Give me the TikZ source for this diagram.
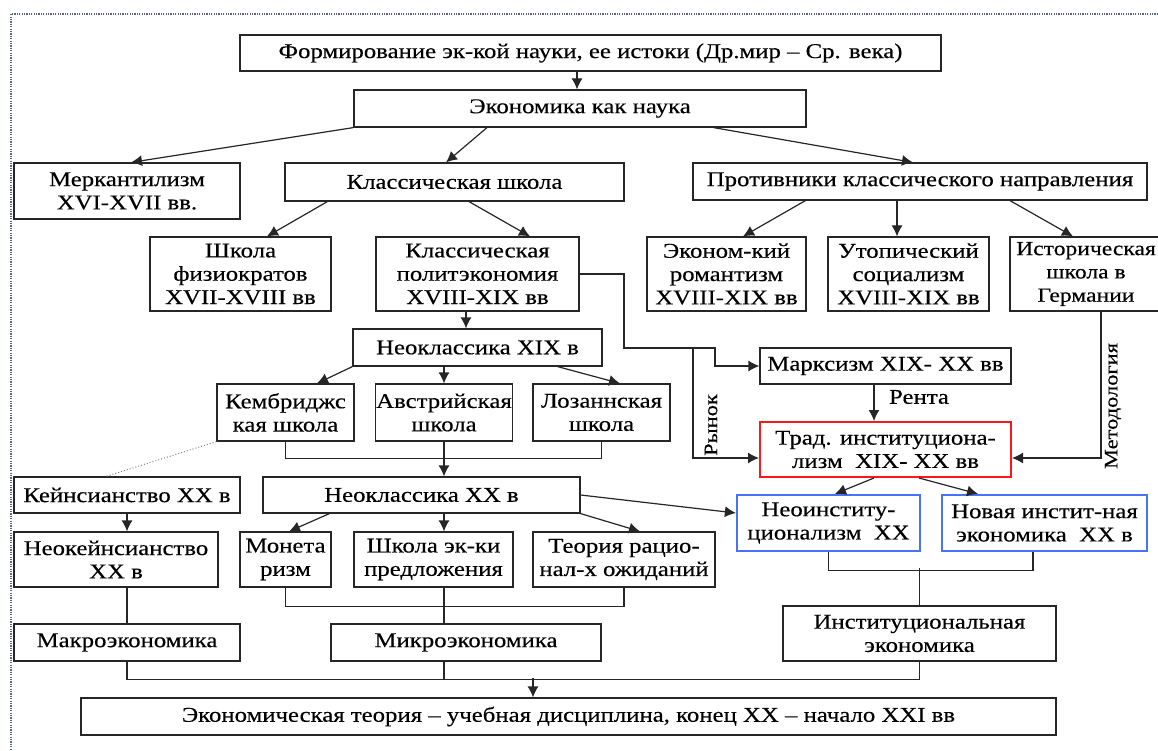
\documentclass[tikz,border=0pt]{standalone}
\usepackage{fontspec}
\setmainfont[FakeStretch=1.18, FakeBold=0.3]{Liberation Serif}
\usetikzlibrary{arrows.meta}
\definecolor{instred}{RGB}{250,25,25}
\definecolor{instblue}{RGB}{70,115,250}
\definecolor{framegray}{RGB}{90,100,125}
\begin{document}
\begin{tikzpicture}[x=1pt, y=-1pt, >={Latex[length=11pt,width=11pt]},
  box/.style={draw=black!85, line width=1.2pt, align=center, inner sep=0.5pt,
    font=\fontsize{21}{23.3}\selectfont},
  redbox/.style={box, draw=instred, line width=2pt},
  bluebox/.style={box, draw=instblue, line width=2.2pt},
  link/.style={draw=black!85, line width=1.2pt},
  lbl/.style={font=\fontsize{21}{23.3}\selectfont},
  sidelbl/.style={font=\fontsize{19}{20}\selectfont, rotate=90}]
\useasboundingbox (0,0) rectangle (1158,751);
\draw[framegray, line width=1.6pt, dash pattern=on 1.2pt off 1.2pt] (1158,14) -- (11,14) -- (11,751);
% boxes, top part
\node[box, minimum width=701, minimum height=36] (form) at (590.5,53) {Формирование эк-кой науки, ее истоки (Др.мир – Ср. века)};
\node[box, minimum width=452, minimum height=37] (econ) at (580,108.5) {Экономика как наука};
\node[box, minimum width=226, minimum height=56] (merk) at (127,191) {Меркантилизм\\XVI-XVII вв.};
\node[box, minimum width=339, minimum height=38] (klass) at (454.5,182) {Классическая школа};
\node[box, minimum width=454, minimum height=37] (protiv) at (920,181.5) {Противники классического направления};
\node[box, minimum width=181, minimum height=74] (fiz) at (240.5,274) {Школа\\физиократов\\XVII-XVIII вв};
\node[box, minimum width=203, minimum height=74] (polit) at (477.5,274) {Классическая\\политэкономия\\XVIII-XIX вв};
\node[box, minimum width=159, minimum height=74] (roman) at (726.5,274) {Эконом-кий\\романтизм\\XVIII-XIX вв};
\node[box, minimum width=161, minimum height=74] (utop) at (908.5,274) {Утопический\\социализм\\XVIII-XIX вв};
\node[box, minimum width=152, minimum height=74, font=\fontsize{20}{23.3}\selectfont] (hist) at (1086,274) {Историческая\\школа в\\Германии};
% middle part
\node[box, minimum width=249, minimum height=37] (neo19) at (477.5,347.5) {Неоклассика XIX в};
\node[box, minimum width=251, minimum height=36] (marx) at (885.5,366) {Марксизм XIX- XX вв};
\node[box, minimum width=137, minimum height=57] (camb) at (285.5,412.5) {Кембриджс\\кая школа};
\node[box, minimum width=136, minimum height=57] (austr) at (444,412.5) {Австрийская\\школа};
\node[box, minimum width=137, minimum height=57] (laus) at (601.5,412.5) {Лозаннская\\школа};
\node[redbox, minimum width=251, minimum height=55] (trad) at (885.5,449.5) {Трад. институциона-\\лизм~~XIX- XX вв};
\node[box, minimum width=226, minimum height=36] (keyn) at (127,495) {Кейнсианство XX в};
\node[box, minimum width=317, minimum height=36] (neo20) at (421.5,495) {Неоклассика XX в};
\node[bluebox, minimum width=183, minimum height=56] (neoinst) at (828.5,523) {Неоинститу-\\ционализм~~XX};
\node[bluebox, minimum width=205, minimum height=56] (newinst) at (1044.5,523) {Новая инстит-ная\\экономика~~XX в};
% bottom part
\node[box, minimum width=204, minimum height=55] (neokeyn) at (116,559.5) {Неокейнсианство\\XX в};
\node[box, minimum width=91, minimum height=55] (monet) at (285.5,559.5) {Монета\\ризм};
\node[box, minimum width=159, minimum height=55] (supply) at (433.5,559.5) {Школа эк-ки\\предложения};
\node[box, minimum width=182, minimum height=55] (ratexp) at (624,559.5) {Теория рацио-\\нал-х ожиданий};
\node[box, minimum width=226, minimum height=37] (makro) at (127,642.5) {Макроэкономика};
\node[box, minimum width=270, minimum height=37] (mikro) at (466,642.5) {Микроэкономика};
\node[box, minimum width=273, minimum height=55] (inst) at (919.5,633.5) {Институциональная\\экономика};
\node[box, minimum width=975, minimum height=37] (theory) at (568.5,716.5) {Экономическая теория – учебная дисциплина, конец XX – начало XXI вв};
% labels on the links
\node[lbl] (rent) at (919,397) {Рента};
\node[sidelbl] (market) at (711,425) {Рынок};
\node[sidelbl] (method) at (1113,406) {Методология};
\coordinate (fork) at (693,348);
% links
\draw[link,->] ([xshift=-3]econ.north |- form.south) -- ([xshift=-3]econ.north);
\draw[link,->] (econ.south west) -- ([xshift=4]merk.north);
\draw[link,->] ([xshift=-93]econ.south) -- ([xshift=-8.5]klass.north);
\draw[link,->] ([xshift=-93]econ.south east) -- ([xshift=-7]protiv.north);
\draw[link,->] ([xshift=43]klass.south west) -- ([xshift=26.5]fiz.north);
\draw[link,->] ([xshift=14.5]klass.south) -- ([xshift=52.5]polit.north);
\draw[link,->] ([xshift=113]protiv.south west) -- ([xshift=16.5]roman.north);
\draw[link,->] ([xshift=-11.5]utop.north |- protiv.south) -- ([xshift=-11.5]utop.north);
\draw[link,->] ([xshift=90]protiv.south) -- ([xshift=-13]hist.north);
\draw[link,->] ([xshift=-11.5]polit.south) -- ([xshift=-11.5]polit.south |- neo19.north);
\draw[link,->] (polit.east) -| (624,348) -- (715,348) |- (marx.west);
\draw[link,->] (fork) |- ([yshift=-8.5]trad.west);
\draw[link,->] ([xshift=-11.5]marx.south) -- ([xshift=-11.5]trad.north);
\draw[link,->] ([xshift=15]hist.south) |- ([yshift=-8.5]trad.east);
\draw[link,->] (neo19.south west) -- ([xshift=31.5]camb.north);
\draw[link,->] (austr.north |- neo19.south) -- (austr.north);
\draw[link,->] ([xshift=-45]neo19.south east) -- ([xshift=18.5]laus.north);
\draw[link] (camb.south) -- ++(0,17) -| (laus.south);
\draw[link,->] (austr.south) -- (austr.south |- neo20.north);
\draw[gray, dotted, line width=1pt] (camb.south west) -- ([xshift=-21]keyn.north);
\draw[link,->] (keyn.south) -- (keyn.south |- neokeyn.north);
\draw[link,->] ([xshift=67]neo20.south west) -- ([xshift=3.5]monet.north);
\draw[link,->] ([xshift=10.5]supply.north |- neo20.south) -- ([xshift=10.5]supply.north);
\draw[link,->] (neo20.south east) -- ([xshift=16]ratexp.north);
\draw[link,->] (neo20.east) -- ([yshift=10]neoinst.west);
\draw[link,->] ([xshift=-11.5]trad.south) -- ([xshift=6.5]neoinst.north);
\draw[link,->] ([xshift=33.5]trad.south) -- ([xshift=-66.5]newinst.north);
\draw[link] (monet.south) -- ++(0,19) -| (ratexp.south);
\draw[link] ([xshift=10.5]supply.south) -- ([xshift=10.5]supply.south |- mikro.north);
\draw[link] (keyn.south |- neokeyn.south) -- (keyn.south |- makro.north);
\draw[link] (neoinst.south) -- ++(0,18) -| ([xshift=-11.5]newinst.south);
\draw[link] (inst.north) -- ++(0,-37);
\draw[link] (makro.south) -- ++(0,18) -| (inst.south);
\draw[link] ([xshift=-22]mikro.south) -- ++(0,18);
\draw[link,->] ([xshift=-35.5,yshift=19]theory.north) -- ([xshift=-35.5]theory.north);
\end{tikzpicture}
\end{document}
